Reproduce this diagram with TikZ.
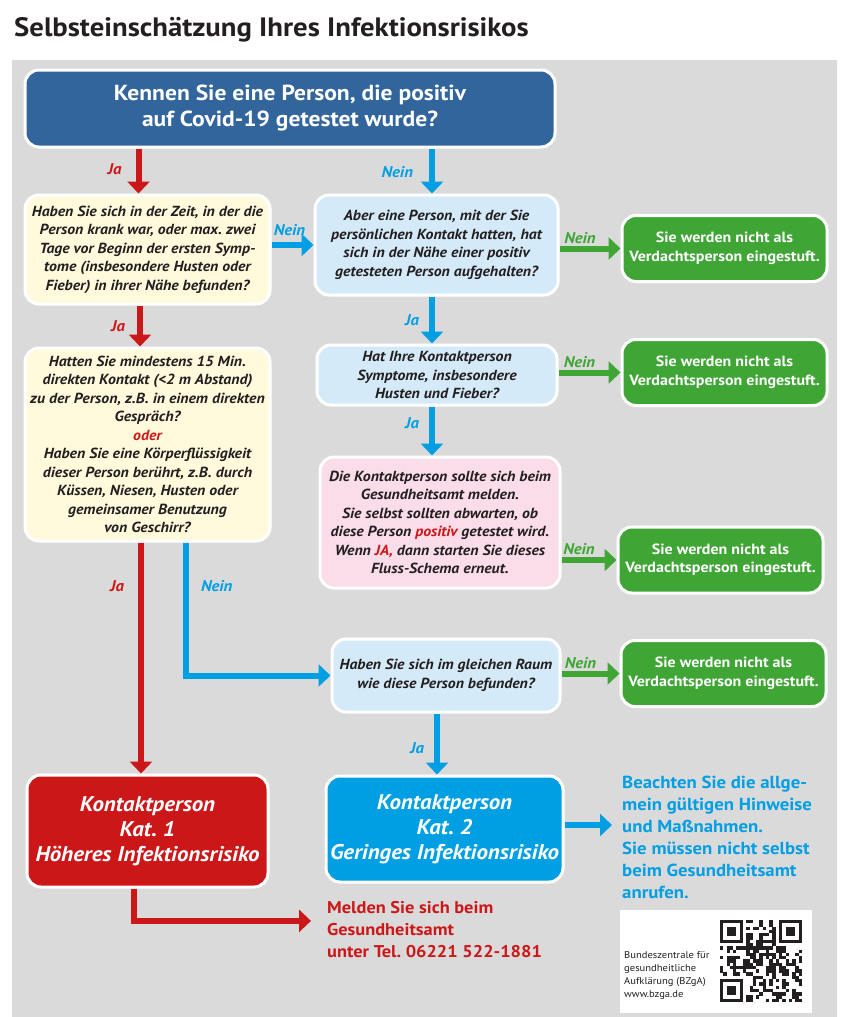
\documentclass[tikz,border=0pt]{standalone}
\usepackage{fontspec}
\setmainfont{PT Sans}[FakeStretch=1.08]
\usetikzlibrary{arrows.meta}

\definecolor{bgGray}{RGB}{218,218,218}
\definecolor{topBlue}{RGB}{50,101,155}
\definecolor{katRed}{RGB}{204,23,25}
\definecolor{katBlue}{RGB}{0,159,227}
\definecolor{okGreen}{RGB}{63,165,53}
\definecolor{boxYellow}{RGB}{255,250,220}
\definecolor{boxBlue}{RGB}{213,234,248}
\definecolor{boxPink}{RGB}{250,221,232}
\definecolor{inkDark}{RGB}{35,31,32}

\begin{document}
\frenchspacing
\begin{tikzpicture}[
  x=1pt, y=-1pt,
  box/.style={rounded corners=14pt, draw=white, line width=3pt, align=center, inner sep=1pt},
  question/.style={box, text=inkDark, font=\fontsize{14.6}{18.5}\selectfont\bfseries\itshape},
  result/.style={box, fill=okGreen, text=white, font=\fontsize{14.8}{18.5}\selectfont\bfseries},
  category/.style={box, text=white, font=\fontsize{21.2}{25}\selectfont\bfseries\itshape},
  flow/.style={line width=6pt, -{Triangle[width=22pt,length=12pt]}},
  answer/.style={font=\fontsize{15.5}{18}\selectfont\bfseries\itshape, inner sep=0pt}
]
\useasboundingbox (0,0) rectangle (848,1017);

% title and grey panel
\node[anchor=base west, inner sep=0pt, text=inkDark, font=\fontsize{26.6}{30}\selectfont\bfseries]
  (title) at (14,36) {Selbsteinschätzung Ihres Infektionsrisikos};
\fill[bgGray] (12,60) rectangle (837,1017);

% boxes
\node[box, fill=topBlue, text=white, minimum width=530pt, minimum height=77pt,
  font=\fontsize{21.8}{26}\selectfont\bfseries] (start) at (290,108.5)
  {Kennen Sie eine Person, die positiv\\ auf Covid-19 getestet wurde?};

\node[question, fill=boxYellow, minimum width=245pt, minimum height=109pt] (zeit) at (147.5,249.5)
  {Haben Sie sich in der Zeit, in der die\\ Person krank war, oder max. zwei\\
   Tage vor Beginn der ersten Symp-\\ tome (insbesondere Husten oder\\ Fieber) in ihrer Nähe befunden?};
\node[question, fill=boxBlue, minimum width=243pt, minimum height=100pt] (indirekt) at (436.5,245)
  {Aber eine Person, mit der Sie\\ persönlichen Kontakt hatten, hat\\
   sich in der Nähe einer positiv\\ getesteten Person aufgehalten?};
\node[question, fill=boxYellow, minimum width=245pt, minimum height=193pt] (kontakt) at (147.5,444.5)
  {Hatten Sie mindestens 15 Min.\\ direkten Kontakt (<2 m Abstand)\\
   zu der Person, z.B. in einem direkten\\ Gespräch?\\ \textcolor{katRed}{oder}\\
   Haben Sie eine Körperflüssigkeit\\ dieser Person berührt, z.B. durch\\
   Küssen, Niesen, Husten oder\\ gemeinsamer Benutzung\\ von Geschirr?};
\node[question, fill=boxBlue, minimum width=240pt, minimum height=60pt] (symptome) at (437,375)
  {Hat Ihre Kontaktperson\\ Symptome, insbesondere\\ Husten und Fieber?};
\node[question, fill=boxPink, minimum width=240pt, minimum height=131pt] (abwarten) at (440,522.5)
  {Die Kontaktperson sollte sich beim\\ Gesundheitsamt melden.\\
   Sie selbst sollten abwarten, ob\\ diese Person \textcolor{katRed}{positiv} getestet wird.\\
   Wenn \textcolor{katRed}{JA,} dann starten Sie dieses\\ Fluss-Schema erneut.};
\node[question, fill=boxBlue, minimum width=228pt, minimum height=73pt] (raum) at (446,675.5)
  {Haben Sie sich im gleichen Raum\\ wie diese Person befunden?};

% green results
\foreach \name/\pos in {okA/{(724.5,248.5)}, okB/{(724.5,372.5)}, okC/{(720.5,560)}, okD/{(723.5,673.5)}}
  \node[result, minimum width=205pt, minimum height=66pt] (\name) at \pos
    {Sie werden nicht als\\ Verdachtsperson eingestuft.};

% categories
\node[category, fill=katRed, minimum width=241pt, minimum height=112pt] (katEins) at (147.5,831)
  {Kontaktperson\\ Kat. 1\\ Höheres Infektionsrisiko};
\node[category, fill=katBlue, minimum width=237pt, minimum height=106pt] (katZwei) at (444.5,829)
  {Kontaktperson\\ Kat. 2\\ Geringes Infektionsrisiko};

\node[anchor=north west, align=left, inner sep=0pt, text=katRed,
  font=\fontsize{17}{22}\selectfont\bfseries] (melden) at (327,901)
  {Melden Sie sich beim\\ Gesundheitsamt\\ unter Tel. 06221 522-1881};
\node[anchor=north west, align=left, inner sep=0pt, text=katBlue,
  font=\fontsize{17.4}{22}\selectfont\bfseries] (beachten) at (622,776)
  {Beachten Sie die allge-\\ mein gültigen Hinweise\\ und Maßnahmen.\\
   Sie müssen nicht selbst\\ beim Gesundheitsamt\\ anrufen.};

% arrows
\draw[flow, katRed] ([xshift=-9pt]start.south -| zeit.north) -- ([xshift=-9pt]zeit.north)
  node[answer, midway, left=14pt, yshift=2pt] {Ja};
\draw[flow, katBlue] ([xshift=-4.5pt]start.south -| indirekt.north) -- ([xshift=-4.5pt]indirekt.north)
  node[answer, midway, left=16pt, yshift=-1pt] {Nein};
\draw[flow, katBlue] (zeit.east |- indirekt.west) -- (indirekt.west)
  node[answer, midway, above=6pt, xshift=-3pt] {Nein};
\draw[flow, okGreen] (indirekt.east |- okA.west) -- (okA.west)
  node[answer, midway, above=2pt, xshift=-10pt] {Nein};
\draw[flow, katRed] ([xshift=-7.5pt]zeit.south) -- ([xshift=-7.5pt]kontakt.north)
  node[answer, midway, left=12pt] {Ja};
\draw[flow, katBlue] ([xshift=-4.5pt]indirekt.south) -- ([xshift=-4.5pt]indirekt.south |- symptome.north)
  node[answer, midway, left=10pt] {Ja};
\draw[flow, okGreen] (symptome.east |- okB.west) -- (okB.west)
  node[answer, midway, above=2pt, xshift=-10pt] {Nein};
\draw[flow, katBlue] ([xshift=-5pt]symptome.south) -- ([xshift=-5pt]symptome.south |- abwarten.north)
  node[answer, midway, left=10pt, yshift=8pt] {Ja};
\draw[flow, okGreen] (abwarten.east |- okC.west) -- (okC.west)
  node[answer, midway, above=2pt, xshift=-10pt] {Nein};
\draw[flow, katRed] ([xshift=-6.5pt]kontakt.south) -- ([xshift=-6.5pt]kontakt.south |- katEins.north)
  node[answer, pos=0.19, left=14pt] {Ja};
\draw[flow, katBlue] ([xshift=38.5pt]kontakt.south) |- (raum.west)
  node[answer, pos=0.165, right=12pt] {Nein};
\draw[flow, okGreen] (raum.east |- okD.west) -- (okD.west)
  node[answer, midway, above=2pt, xshift=-10pt] {Nein};
\draw[flow, katBlue] ([xshift=-9pt]raum.south) -- ([xshift=-9pt]raum.south |- katZwei.north)
  node[answer, midway, left=10pt, yshift=-4pt] {Ja};
\draw[flow, katRed] ([xshift=-13.5pt]katEins.south) |- ([yshift=8.5pt]melden.west)
  [shorten >=16pt];
\draw[flow, katBlue] ([yshift=4pt]katZwei.east) -- ([yshift=4pt]katZwei.east -| beachten.west)
  [shorten >=10pt];

% BZgA badge with QR code
\node[fill=white, minimum width=192pt, minimum height=103pt, inner sep=0pt] (badge) at (716,961.5) {};
\node[anchor=west, align=left, inner sep=0pt, text=inkDark,
  font=\fontsize{9.8}{13}\selectfont] (bzga) at (624,976)
  {Bundeszentrale für\\ gesundheitliche\\ Aufklärung (BZgA)\\ www.bzga.de};
\begin{scope}[shift={(720,920)}, x=3.28pt, y=-3.28pt]
  \pgfmathsetseed{17}
  \foreach \row in {0,...,24} {
    \foreach \col in {0,...,24} {
      \pgfmathrandominteger{\bit}{0}{1}
      \pgfmathtruncatemacro{\dot}{((\row<8 && \col<8) || (\row<8 && \col>16) || (\row>16 && \col<8)) ? 0 : \bit}
      \ifnum\dot=1 \fill[inkDark] (\col,\row) rectangle ++(1.02,1.02); \fi
    }
  }
  \foreach \fx/\fy in {0/0,18/0,0/18} {
    \fill[inkDark] (\fx,\fy) rectangle ++(7,7);
    \fill[white] (\fx+1,\fy+1) rectangle ++(5,5);
    \fill[inkDark] (\fx+2,\fy+2) rectangle ++(3,3);
  }
\end{scope}

\end{tikzpicture}
\end{document}
